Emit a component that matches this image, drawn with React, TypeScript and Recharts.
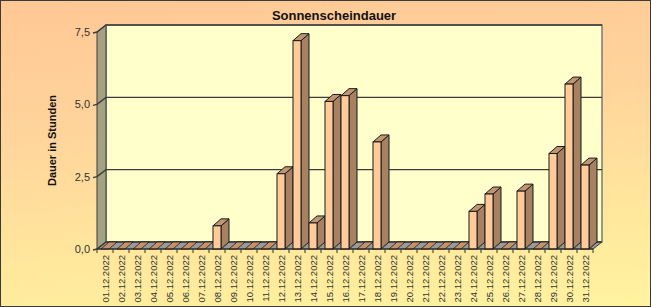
import React from 'react';
import { BarChart, Bar, XAxis, YAxis, CartesianGrid } from 'recharts';

const categories = [
  '01.12.2022', '02.12.2022', '03.12.2022', '04.12.2022', '05.12.2022', '06.12.2022',
  '07.12.2022', '08.12.2022', '09.12.2022', '10.12.2022', '11.12.2022', '12.12.2022',
  '13.12.2022', '14.12.2022', '15.12.2022', '16.12.2022', '17.12.2022', '18.12.2022',
  '19.12.2022', '20.12.2022', '21.12.2022', '22.12.2022', '23.12.2022', '24.12.2022',
  '25.12.2022', '26.12.2022', '27.12.2022', '28.12.2022', '29.12.2022', '30.12.2022',
  '31.12.2022',
];
const sunshineHours = [
  0, 0, 0, 0, 0, 0, 0, 0.8, 0, 0, 0, 2.6, 7.2, 0.9, 5.1, 5.3, 0, 3.7, 0, 0, 0, 0, 0,
  1.3, 1.9, 0, 2.0, 0, 3.3, 5.7, 2.9,
];
const yTicks = [0, 2.5, 5, 7.5];
const title = 'Sonnenscheindauer';
const yTitle = 'Dauer in Stunden';

const data = categories.map((c, i) => ({ day: c, v: sunshineHours[i] }));

const W = 651;
const H = 307;
const M = { top: 32, right: 58, bottom: 0, left: 47 };
const Y_AXIS_W = 50;
const X_AXIS_H = 58;
const PL = M.left + Y_AXIS_W; // 97
const PR = W - M.right; // 593
const PT = M.top; // 32
const PB = H - M.bottom - X_AXIS_H; // 249
const WALL_DX = 9;
const WALL_DY = -7;
const BAR_DX = 8;
const BAR_DY = -7;
const BAND = (PR - PL) / categories.length;
const FONT = '"Liberation Sans", Arial, sans-serif';

const Bar3D = (props: any) => {
  const { x, y, width, height } = props;
  if (x == null || y == null) return null;
  const w = width;
  const bottom = y + height;
  const top = y;
  const stroke = '#1a1a1a';
  if (!height || height < 0.5) {
    return (
      <polygon
        points={`${x},${bottom} ${x + w},${bottom} ${x + w + BAR_DX},${bottom + BAR_DY} ${x + BAR_DX},${bottom + BAR_DY}`}
        fill="#c4926a"
        stroke={stroke}
        strokeWidth={0.8}
      />
    );
  }
  return (
    <g>
      <polygon
        points={`${x + w},${top} ${x + w + BAR_DX},${top + BAR_DY} ${x + w + BAR_DX},${bottom + BAR_DY} ${x + w},${bottom}`}
        fill="#a88062"
        stroke={stroke}
        strokeWidth={1}
        strokeLinejoin="round"
      />
      <polygon
        points={`${x},${top} ${x + w},${top} ${x + w + BAR_DX},${top + BAR_DY} ${x + BAR_DX},${top + BAR_DY}`}
        fill="#c09672"
        stroke={stroke}
        strokeWidth={1}
        strokeLinejoin="round"
      />
      <rect x={x} y={top} width={w} height={height} fill="#ffcc99" stroke={stroke} strokeWidth={1} />
    </g>
  );
};

const XTick = (props: any) => {
  const { x, y, payload, index } = props;
  const last = index === categories.length - 1;
  return (
    <g>
      <line x1={x - BAND / 2} y1={y} x2={x - BAND / 2} y2={y + 4} stroke="#333" />
      {last ? <line x1={x + BAND / 2} y1={y} x2={x + BAND / 2} y2={y + 4} stroke="#333" /> : null}
      <text
        transform={`translate(${x + 3.5},${y + 6}) rotate(-90)`}
        textAnchor="end"
        fontSize={9.5}
        fontFamily={FONT}
        fill="#333"
      >
        {payload.value}
      </text>
    </g>
  );
};

const gridLine = (p: any) => {
  const { x1, x2, y1 } = p;
  return (
    <polyline
      key={`g-${y1}`}
      points={`${x1 - 4},${y1 + 1} ${x1},${y1} ${x1 + WALL_DX},${y1 + WALL_DY} ${x2 + WALL_DX},${y1 + WALL_DY}`}
      fill="none"
      stroke="#3c3c3c"
      strokeWidth={1.4}
    />
  );
};

export default function App() {
  return (
    <div
      style={{
        position: 'fixed',
        left: 0,
        top: 0,
        width: W,
        height: H,
        background: 'linear-gradient(175deg, #ffc794 0%, #ffd59c 40%, #ffe89c 75%, #fff3a0 100%)',
        overflow: 'hidden',
      }}
    >
      <svg width={W} height={H} style={{ position: 'absolute', left: 0, top: 0 }}>
        <text
          x={334}
          y={20}
          textAnchor="middle"
          fontSize={13}
          fontWeight="bold"
          fontFamily={FONT}
          fill="#111"
        >
          {title}
        </text>
        <rect
          x={PL + WALL_DX}
          y={PT + WALL_DY}
          width={PR - PL}
          height={PB - PT}
          fill="#ffffcc"
          stroke="#7a7a7a"
          strokeWidth={1.5}
        />
        <polygon
          points={`${PL},${PT} ${PL + WALL_DX},${PT + WALL_DY} ${PL + WALL_DX},${PB + WALL_DY} ${PL},${PB}`}
          fill="#a3a384"
          stroke="#3c3c3c"
          strokeWidth={1}
        />
        <polygon
          points={`${PL},${PB} ${PR},${PB} ${PR + WALL_DX},${PB + WALL_DY} ${PL + WALL_DX},${PB + WALL_DY}`}
          fill="#9a9a9a"
          stroke="#3c3c3c"
          strokeWidth={1}
        />
      </svg>
      <div style={{ position: 'absolute', left: 0, top: 0 }}>
        <BarChart width={W} height={H} data={data} margin={M} barSize={8}>
          <CartesianGrid vertical={false} horizontal={gridLine} />
          <XAxis
            dataKey="day"
            interval={0}
            height={X_AXIS_H}
            tickLine={false}
            tickSize={0}
            tickMargin={0}
            axisLine={{ stroke: '#222', strokeWidth: 1 }}
            tick={<XTick />}
          />
          <YAxis
            width={Y_AXIS_W}
            domain={[0, 7.5]}
            ticks={yTicks}
            axisLine={false}
            tickLine={false}
            tickSize={4}
            tickMargin={3}
            tickFormatter={(v: number) => v.toFixed(1).replace('.', ',')}
            tick={{ fontSize: 11, fontFamily: FONT, fill: '#333' }}
            label={{
              value: yTitle,
              angle: -90,
              position: 'insideLeft',
              offset: 5,
              style: { textAnchor: 'middle', fontSize: 11, fontWeight: 'bold', fontFamily: FONT, fill: '#111' },
            }}
          />
          <Bar dataKey="v" shape={<Bar3D />} isAnimationActive={false} />
        </BarChart>
      </div>
      <div
        style={{
          position: 'absolute',
          left: 0,
          top: 0,
          width: W,
          height: H,
          boxSizing: 'border-box',
          border: '1px solid #3a3a3a',
          pointerEvents: 'none',
        }}
      />
    </div>
  );
}
